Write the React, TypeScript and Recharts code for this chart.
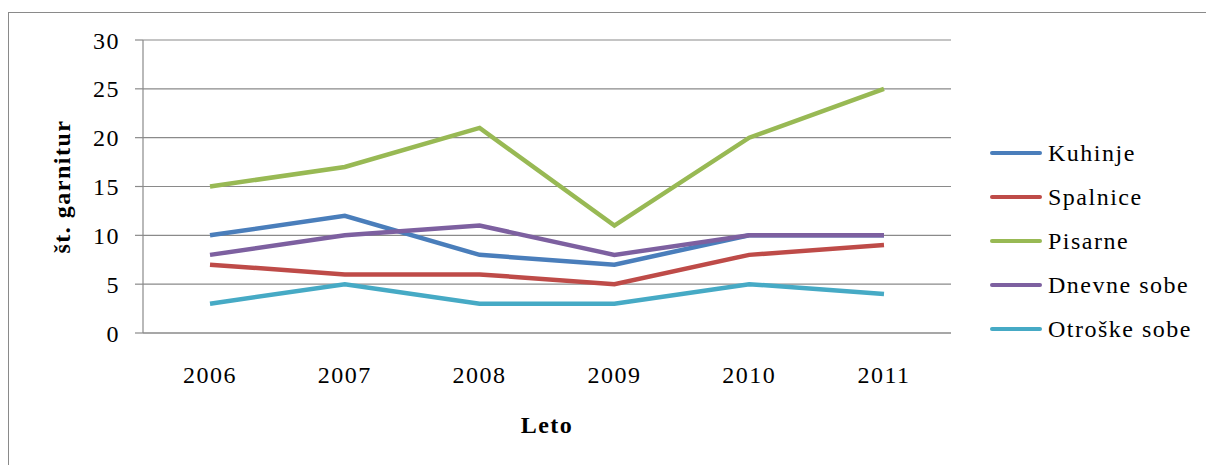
import { LineChart, Line, XAxis, YAxis, CartesianGrid, Legend } from "recharts"

// years on the x axis
const years = ["2006", "2007", "2008", "2009", "2010", "2011"]

// number of furniture sets per room type
const kuhinje = [10, 12, 8, 7, 10, 10]
const spalnice = [7, 6, 6, 5, 8, 9]
const pisarne = [15, 17, 21, 11, 20, 25]
const dnevneSobe = [8, 10, 11, 8, 10, 10]
const otroskeSobe = [3, 5, 3, 3, 5, 4]

const yTicks = [0, 5, 10, 15, 20, 25, 30]

const series = [
  { key: "kuhinje", name: "Kuhinje", color: "#4a7ebb", values: kuhinje },
  { key: "spalnice", name: "Spalnice", color: "#be4b48", values: spalnice },
  { key: "pisarne", name: "Pisarne", color: "#98b954", values: pisarne },
  { key: "dnevne", name: "Dnevne sobe", color: "#7d60a0", values: dnevneSobe },
  { key: "otroske", name: "Otroške sobe", color: "#46aac5", values: otroskeSobe },
]

const data = years.map((year, i) => {
  const row: Record<string, string | number> = { year }
  series.forEach((s) => {
    row[s.key] = s.values[i]
  })
  return row
})

const FONT = '"Liberation Serif", "Times New Roman", serif'
const GRID = "#8a8a8a"

// keep the legend in series order (recharts sorts it otherwise)
function LegendBox() {
  return (
    <div style={{ fontFamily: FONT, fontSize: 24, letterSpacing: 1.5, color: "#000" }}>
      {series.map((s) => (
        <div key={s.key} style={{ display: "flex", alignItems: "center", height: 44 }}>
          <div style={{ width: 52, height: 4.5, background: s.color, borderRadius: 2, marginRight: 6 }} />
          <span>{s.name}</span>
        </div>
      ))}
    </div>
  )
}

const tickStyle = { fill: "#000", fontSize: 24, letterSpacing: 1.5, fontFamily: FONT }

export default function App() {
  // fixed so nothing spills over the page and makes scrollbars
  return (
    <div
      style={{
        position: "fixed",
        left: 0,
        top: 0,
        width: 1206,
        height: 465,
        overflow: "hidden",
        background: "#fff",
        fontFamily: FONT,
      }}
    >
      <div
        style={{
          position: "absolute",
          left: 8,
          top: 12,
          right: -10,
          bottom: -10,
          borderTop: `1.5px solid ${GRID}`,
          borderLeft: `1.5px solid ${GRID}`,
        }}
      />
      <div style={{ position: "absolute", left: 8, top: 8 }}>
        <LineChart
          width={1198}
          height={457}
          data={data}
          margin={{ top: 32, right: 255, bottom: 102, left: 0 }}
          style={{ fontFamily: FONT }}
        >
          <CartesianGrid vertical={false} stroke={GRID} strokeWidth={1.2} />
          <XAxis
            dataKey="year"
            height={30}
            padding={{ left: 67, right: 67 }}
            axisLine={{ stroke: GRID, strokeWidth: 1.2 }}
            tickLine={false}
            tickSize={0}
            tickMargin={33}
            tick={tickStyle}
            label={{
              content: (p: any) => {
                const vb = p.viewBox
                return (
                  <text
                    x={vb.x + vb.width / 2}
                    y={vb.y + 92}
                    textAnchor="middle"
                    dominantBaseline="central"
                    fontSize={24}
                    fontWeight="bold"
                    letterSpacing={1.5}
                    fontFamily={FONT}
                    fill="#000"
                  >
                    Leto
                  </text>
                )
              },
            }}
          />
          <YAxis
            width={135}
            domain={[0, 30]}
            ticks={yTicks}
            interval={0}
            axisLine={{ stroke: GRID, strokeWidth: 1.2 }}
            tickLine={{ stroke: GRID, strokeWidth: 1.2 }}
            tickSize={8}
            tickMargin={15}
            tick={tickStyle}
            label={{
              content: (p: any) => {
                const vb = p.viewBox
                const x = vb.x + 54
                const y = vb.y + vb.height / 2
                return (
                  <text
                    x={x}
                    y={y}
                    transform={`rotate(-90 ${x} ${y})`}
                    textAnchor="middle"
                    dominantBaseline="central"
                    fontSize={24}
                    fontWeight="bold"
                    letterSpacing={1.5}
                    fontFamily={FONT}
                    fill="#000"
                  >
                    št. garnitur
                  </text>
                )
              },
            }}
          />
          <Legend
            layout="vertical"
            align="center"
            verticalAlign="middle"
            content={<LegendBox />}
            wrapperStyle={{ left: 982, top: 123, width: 210 }}
          />
          {series.map((s) => (
            <Line
              key={s.key}
              type="linear"
              dataKey={s.key}
              name={s.name}
              stroke={s.color}
              strokeWidth={4.5}
              dot={false}
              activeDot={false}
              isAnimationActive={false}
            />
          ))}
        </LineChart>
      </div>
    </div>
  )
}
